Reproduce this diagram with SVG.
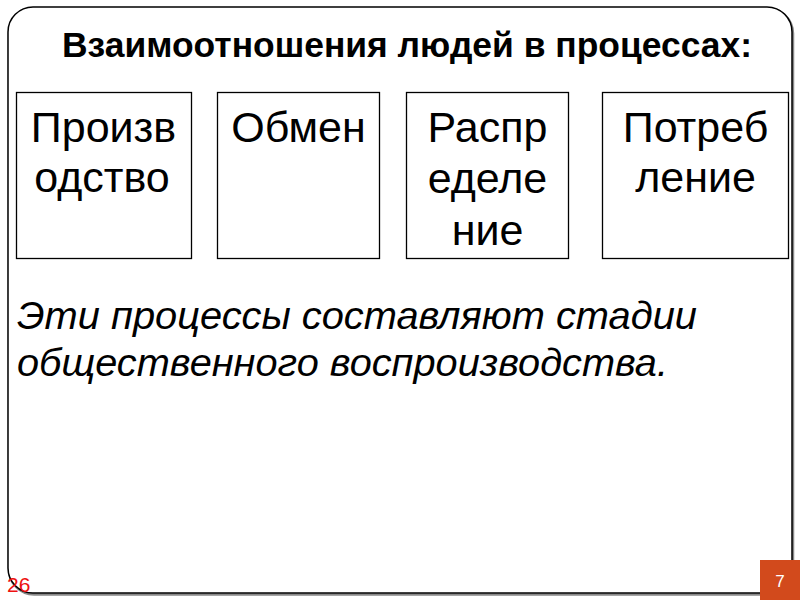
<svg xmlns="http://www.w3.org/2000/svg" width="800" height="600" viewBox="0 0 800 600">
<style>
.box{fill:#fff;stroke:#000;stroke-width:1.3}
.bt{font-family:"Liberation Sans",Arial,sans-serif;font-size:43px;fill:#000;text-anchor:middle}
.title{font-family:"Liberation Sans",Arial,sans-serif;font-size:35px;font-weight:bold;fill:#000}
.body{font-family:"Liberation Sans",Arial,sans-serif;font-size:38px;font-style:italic;fill:#000}
</style>
<rect width="800" height="600" fill="#fff"/>
<path d="M33,7 H767 A25,25 0 0 1 792,32 V568 A25,25 0 0 1 767,593 H33 A25,25 0 0 1 8,568 V32 A25,25 0 0 1 33,7 Z" fill="none" stroke="#888" stroke-width="2.5" transform="translate(1,1.5)"/>
<path d="M33,7 H767 A25,25 0 0 1 792,32 V568 A25,25 0 0 1 767,593 H33 A25,25 0 0 1 8,568 V32 A25,25 0 0 1 33,7 Z" fill="#fff" stroke="#000" stroke-width="1.5"/>
<text class="title" x="62" y="57" textLength="690" lengthAdjust="spacingAndGlyphs">Взаимоотношения людей в процессах:</text>
<g id="n1"><rect class="box" x="16.5" y="92.5" width="175" height="166"/>
<text class="bt" x="103.5" y="142">Произв</text><text class="bt" x="102" y="192">одство</text></g>
<g id="n2"><rect class="box" x="217.5" y="92.5" width="162" height="166"/>
<text class="bt" x="298.5" y="142">Обмен</text></g>
<g id="n3"><rect class="box" x="406.5" y="92.5" width="162" height="166"/>
<text class="bt" x="487.5" y="142">Распр</text><text class="bt" x="487.5" y="193">еделе</text><text class="bt" x="487.5" y="245">ние</text></g>
<g id="n4"><rect class="box" x="602.5" y="92.5" width="186" height="166"/>
<text class="bt" x="695.5" y="142">Потреб</text><text class="bt" x="695.5" y="192">ление</text></g>
<g id="connectors"/>
<text class="body" x="17" y="329" textLength="680" lengthAdjust="spacingAndGlyphs">Эти процессы составляют стадии</text>
<text class="body" x="17" y="376" textLength="651" lengthAdjust="spacingAndGlyphs">общественного воспроизводства.</text>
<text x="7" y="592" font-family="Liberation Sans,Arial,sans-serif" font-size="21" fill="#ee1111">26</text>
<rect x="760" y="560" width="40" height="40" fill="#d24a1c"/>
<text x="780" y="587" font-family="Liberation Sans,Arial,sans-serif" font-size="17" fill="#fff" text-anchor="middle">7</text>
</svg>
